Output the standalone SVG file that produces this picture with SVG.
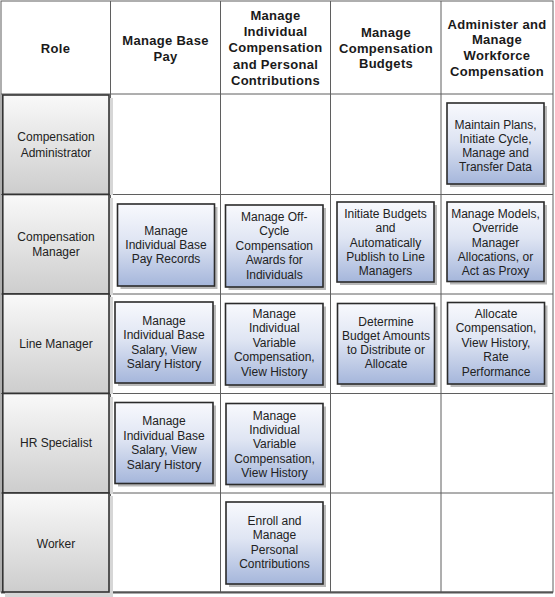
<svg xmlns="http://www.w3.org/2000/svg" width="555" height="597" viewBox="0 0 555 597">
<defs>
<linearGradient id="gBlue" x1="0" y1="0" x2="0" y2="1">
<stop offset="0" stop-color="#f8f9fd"/>
<stop offset="0.45" stop-color="#dfe5f3"/>
<stop offset="1" stop-color="#a5b6db"/>
</linearGradient>
<linearGradient id="gGray" x1="0" y1="0" x2="0" y2="1">
<stop offset="0" stop-color="#f9f9f9"/>
<stop offset="1" stop-color="#cdcdcd"/>
</linearGradient>
</defs>
<style>
.grid{stroke:#5f5f5f;stroke-width:1;fill:none}
.hdr{font-family:"Liberation Sans",Arial,sans-serif;font-size:13px;font-weight:bold;fill:#1a1a1a;text-anchor:middle;letter-spacing:0.3px}
.role{fill:url(#gGray);stroke:#333;stroke-width:1.6}
.rshadow{fill:#d6d6d6}
.box{fill:url(#gBlue);stroke:#2b2b2b;stroke-width:1.6}
.bshadow{fill:#b9b9b9}
.t{font-family:"Liberation Sans",Arial,sans-serif;font-size:12px;fill:#222;text-anchor:middle}
</style>
<rect x="0" y="0" width="555" height="597" fill="#ffffff"/>
<g id="grid">
<rect class="grid" x="1" y="1" width="552" height="591"/>
<line class="grid" x1="110.5" y1="1" x2="110.5" y2="592"/>
<line class="grid" x1="220.5" y1="1" x2="220.5" y2="592"/>
<line class="grid" x1="330.5" y1="1" x2="330.5" y2="592"/>
<line class="grid" x1="441" y1="1" x2="441" y2="592"/>
<line class="grid" x1="1" y1="94" x2="553" y2="94"/>
<line class="grid" x1="1" y1="194.5" x2="553" y2="194.5"/>
<line class="grid" x1="1" y1="294" x2="553" y2="294"/>
<line class="grid" x1="1" y1="393.5" x2="553" y2="393.5"/>
<line class="grid" x1="1" y1="493" x2="553" y2="493"/>
<line x1="1" y1="592.5" x2="553" y2="592.5" stroke="#555" stroke-width="2"/>
</g>
<g id="headers">
<text class="hdr" x="55.5" y="52.5">Role</text>
<text class="hdr" x="165.5" y="44.5">Manage Base</text>
<text class="hdr" x="165.5" y="60.5">Pay</text>
<text class="hdr" x="275.5" y="20">Manage</text>
<text class="hdr" x="275.5" y="36.2">Individual</text>
<text class="hdr" x="275.5" y="52.4">Compensation</text>
<text class="hdr" x="275.5" y="68.6">and Personal</text>
<text class="hdr" x="275.5" y="84.8">Contributions</text>
<text class="hdr" x="386" y="37">Manage</text>
<text class="hdr" x="386" y="52.5">Compensation</text>
<text class="hdr" x="386" y="68">Budgets</text>
<text class="hdr" x="497" y="28.5">Administer and</text>
<text class="hdr" x="497" y="44.2">Manage</text>
<text class="hdr" x="497" y="59.9">Workforce</text>
<text class="hdr" x="497" y="75.6">Compensation</text>
</g>
<g id="role-comp-admin">
<rect class="rshadow" x="109" y="98" width="4" height="97"/>
<rect class="role" x="2.8" y="95" width="106.2" height="99.5"/>
<text class="t" x="56" y="141">Compensation</text>
<text class="t" x="56" y="157">Administrator</text>
</g>
<g id="role-comp-manager">
<rect class="rshadow" x="109" y="198" width="4" height="97"/>
<rect class="role" x="2.8" y="194.5" width="106.2" height="99.5"/>
<text class="t" x="56" y="241">Compensation</text>
<text class="t" x="56" y="256">Manager</text>
</g>
<g id="role-line-manager">
<rect class="rshadow" x="109" y="297" width="4" height="97"/>
<rect class="role" x="2.8" y="294" width="106.2" height="99.5"/>
<text class="t" x="56" y="347.5">Line Manager</text>
</g>
<g id="role-hr-specialist">
<rect class="rshadow" x="109" y="397" width="4" height="97"/>
<rect class="role" x="2.8" y="393.5" width="106.2" height="99.5"/>
<text class="t" x="56" y="447">HR Specialist</text>
</g>
<g id="role-worker">
<rect class="rshadow" x="109" y="496" width="4" height="101"/>
<rect class="rshadow" x="5" y="592" width="108" height="5"/>
<rect class="role" x="2.8" y="493" width="106.2" height="99"/>
<text class="t" x="56" y="547.5">Worker</text>
</g>
<g id="box-maintain-plans">
<rect class="bshadow" x="450" y="106" width="97" height="81"/>
<rect class="box" x="447" y="103" width="97" height="81"/>
<text class="t" x="495.5" y="128.5">Maintain Plans,</text>
<text class="t" x="495.5" y="142.5">Initiate Cycle,</text>
<text class="t" x="495.5" y="156.5">Manage and</text>
<text class="t" x="495.5" y="170.5">Transfer Data</text>
</g>
<g id="box-base-pay-records">
<rect class="bshadow" x="120.5" y="207" width="97" height="82"/>
<rect class="box" x="117.5" y="204" width="97" height="82"/>
<text class="t" x="166" y="234.7">Manage</text>
<text class="t" x="166" y="249">Individual Base</text>
<text class="t" x="166" y="263.3">Pay Records</text>
</g>
<g id="box-off-cycle">
<rect class="bshadow" x="228.5" y="208" width="97.5" height="82"/>
<rect class="box" x="225.5" y="205" width="97.5" height="82"/>
<text class="t" x="274.3" y="220.5">Manage Off-</text>
<text class="t" x="274.3" y="235">Cycle</text>
<text class="t" x="274.3" y="249.5">Compensation</text>
<text class="t" x="274.3" y="264">Awards for</text>
<text class="t" x="274.3" y="278.5">Individuals</text>
</g>
<g id="box-initiate-budgets">
<rect class="bshadow" x="340" y="205" width="97" height="80"/>
<rect class="box" x="337" y="202" width="97" height="80"/>
<text class="t" x="385.5" y="218">Initiate Budgets</text>
<text class="t" x="385.5" y="232.3">and</text>
<text class="t" x="385.5" y="246.6">Automatically</text>
<text class="t" x="385.5" y="260.9">Publish to Line</text>
<text class="t" x="385.5" y="275.2">Managers</text>
</g>
<g id="box-manage-models">
<rect class="bshadow" x="450" y="205" width="97" height="79.5"/>
<rect class="box" x="447" y="202" width="97" height="79.5"/>
<text class="t" x="495.5" y="218">Manage Models,</text>
<text class="t" x="495.5" y="232.3">Override</text>
<text class="t" x="495.5" y="246.6">Manager</text>
<text class="t" x="495.5" y="260.9">Allocations, or</text>
<text class="t" x="495.5" y="275.2">Act as Proxy</text>
</g>
<g id="box-lm-base-salary">
<rect class="bshadow" x="118" y="305" width="98" height="81"/>
<rect class="box" x="115" y="302" width="98" height="81"/>
<text class="t" x="164" y="324.6">Manage</text>
<text class="t" x="164" y="339.1">Individual Base</text>
<text class="t" x="164" y="353.6">Salary, View</text>
<text class="t" x="164" y="368.1">Salary History</text>
</g>
<g id="box-lm-variable">
<rect class="bshadow" x="228.5" y="306.5" width="97.5" height="81.5"/>
<rect class="box" x="225.5" y="303.5" width="97.5" height="81.5"/>
<text class="t" x="274.3" y="318">Manage</text>
<text class="t" x="274.3" y="332.4">Individual</text>
<text class="t" x="274.3" y="346.8">Variable</text>
<text class="t" x="274.3" y="361.2">Compensation,</text>
<text class="t" x="274.3" y="375.6">View History</text>
</g>
<g id="box-determine-budget">
<rect class="bshadow" x="340.5" y="306.5" width="97" height="80.5"/>
<rect class="box" x="337.5" y="303.5" width="97" height="80.5"/>
<text class="t" x="386" y="325.7">Determine</text>
<text class="t" x="386" y="339.9">Budget Amounts</text>
<text class="t" x="386" y="354.1">to Distribute or</text>
<text class="t" x="386" y="368.3">Allocate</text>
</g>
<g id="box-allocate-comp">
<rect class="bshadow" x="450.5" y="305.5" width="97" height="81.5"/>
<rect class="box" x="447.5" y="302.5" width="97" height="81.5"/>
<text class="t" x="496" y="318">Allocate</text>
<text class="t" x="496" y="332.4">Compensation,</text>
<text class="t" x="496" y="346.8">View History,</text>
<text class="t" x="496" y="361.2">Rate</text>
<text class="t" x="496" y="375.6">Performance</text>
</g>
<g id="box-hr-base-salary">
<rect class="bshadow" x="118" y="405.5" width="98" height="81"/>
<rect class="box" x="115" y="402.5" width="98" height="81"/>
<text class="t" x="164" y="425">Manage</text>
<text class="t" x="164" y="439.5">Individual Base</text>
<text class="t" x="164" y="454">Salary, View</text>
<text class="t" x="164" y="468.5">Salary History</text>
</g>
<g id="box-hr-variable">
<rect class="bshadow" x="229" y="406.5" width="97" height="81"/>
<rect class="box" x="226" y="403.5" width="97" height="81"/>
<text class="t" x="274.5" y="419.7">Manage</text>
<text class="t" x="274.5" y="434">Individual</text>
<text class="t" x="274.5" y="448.3">Variable</text>
<text class="t" x="274.5" y="462.6">Compensation,</text>
<text class="t" x="274.5" y="476.9">View History</text>
</g>
<g id="box-enroll">
<rect class="bshadow" x="229" y="505" width="97" height="82"/>
<rect class="box" x="226" y="502" width="97" height="82"/>
<text class="t" x="274.5" y="525">Enroll and</text>
<text class="t" x="274.5" y="539.3">Manage</text>
<text class="t" x="274.5" y="553.6">Personal</text>
<text class="t" x="274.5" y="567.9">Contributions</text>
</g>
</svg>
